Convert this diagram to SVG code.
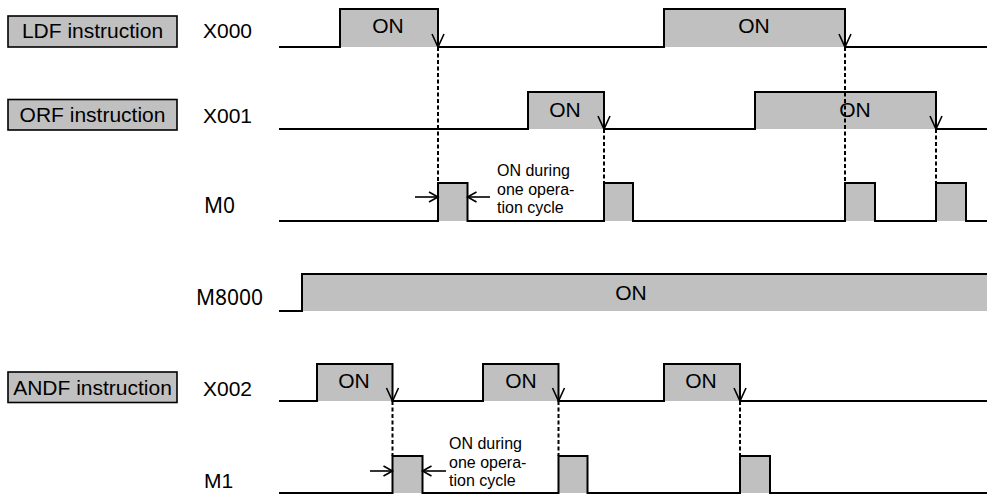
<svg xmlns="http://www.w3.org/2000/svg" width="987" height="494" viewBox="0 0 987 494">
<style>
.bg{fill:#fff}
.on{fill:#c0c0c0;stroke:none}
.wave{fill:none;stroke:#000;stroke-width:2}
.box{fill:#c0c0c0;stroke:#000;stroke-width:1.6}
.t{font-family:"Liberation Sans",Arial,sans-serif;font-size:21px;fill:#000}
.tn{font-family:"Noto Sans","Liberation Sans",sans-serif;font-size:21px;fill:#000}
.tc{text-anchor:middle}
.s{font-family:"Liberation Sans",Arial,sans-serif;font-size:16px;fill:#000}
.dash{fill:none;stroke:#000;stroke-width:2;stroke-dasharray:4,2.5}
.edge{fill:none;stroke:#000;stroke-width:1.6}
.dim{fill:none;stroke:#000;stroke-width:1.6;marker-end:url(#v)}
</style>
<defs>
<marker id="v" markerUnits="userSpaceOnUse" markerWidth="12" markerHeight="12" refX="9" refY="5" orient="auto" overflow="visible">
<path d="M0,0 L9,5 L0,10" fill="none" stroke="#000" stroke-width="1.6"/>
</marker>
</defs>
<rect class="bg" x="0" y="0" width="987" height="494"/>

<g id="ldf-label">
<rect class="box" x="8" y="16" width="169" height="31"/>
<text class="t tc" x="92.5" y="38">LDF instruction</text>
</g>
<g id="orf-label">
<rect class="box" x="8" y="99.5" width="169" height="30.5"/>
<text class="t tc" x="92.5" y="122">ORF instruction</text>
</g>
<g id="andf-label">
<rect class="box" x="8" y="372" width="169" height="30.5"/>
<text class="t tc" x="92.5" y="394.5">ANDF instruction</text>
</g>

<g id="x000">
<text class="t" x="203" y="38">X000</text>
<rect class="on" x="340" y="9" width="98" height="38"/>
<rect class="on" x="664" y="9" width="181" height="38"/>
<path class="wave" d="M279,47 H340 V9 H438 V47 H664 V9 H845 V47 H987"/>
<text class="t tc" x="388" y="33">ON</text>
<text class="t tc" x="754" y="33">ON</text>
</g>

<g id="x001">
<text class="t" x="203" y="123">X001</text>
<rect class="on" x="528" y="92" width="76" height="37"/>
<rect class="on" x="755" y="92" width="181" height="37"/>
<path class="wave" d="M279,129 H528 V92 H604 V129 H755 V92 H936 V129 H987"/>
<text class="t tc" x="565" y="117">ON</text>
<text class="t tc" x="855" y="117">ON</text>
</g>

<g id="m0">
<text class="tn" x="204" y="213">M0</text>
<rect class="on" x="438" y="183" width="29.5" height="38"/>
<rect class="on" x="604" y="183" width="29" height="38"/>
<rect class="on" x="845" y="183" width="30" height="38"/>
<rect class="on" x="936" y="183" width="30" height="38"/>
<path class="wave" d="M279,221 H438 V183 H467.5 V221 H604 V183 H633 V221 H845 V183 H875 V221 H936 V183 H966 V221 H987"/>
<text class="s" x="497" y="176">ON during</text>
<text class="s" x="497" y="194.5">one opera-</text>
<text class="s" x="497" y="213">tion cycle</text>
</g>

<g id="m8000">
<text class="tn" x="196" y="305">M8000</text>
<rect class="on" x="302" y="274" width="685" height="37"/>
<path class="wave" d="M279,311 H302 V274 H987"/>
<text class="t tc" x="631" y="300">ON</text>
</g>

<g id="x002">
<text class="t" x="203" y="396">X002</text>
<rect class="on" x="317" y="364" width="75.5" height="37"/>
<rect class="on" x="483" y="364" width="75.5" height="37"/>
<rect class="on" x="664" y="364" width="76" height="37"/>
<path class="wave" d="M279,401 H317 V364 H392.5 V401 H483 V364 H558.5 V401 H664 V364 H740 V401 H987"/>
<text class="t tc" x="354" y="388">ON</text>
<text class="t tc" x="521" y="388">ON</text>
<text class="t tc" x="701" y="388">ON</text>
</g>

<g id="m1">
<text class="t" x="204" y="488">M1</text>
<rect class="on" x="392.5" y="456" width="30" height="37"/>
<rect class="on" x="558.5" y="456" width="29" height="37"/>
<rect class="on" x="740" y="456" width="30" height="37"/>
<path class="wave" d="M279,493 H392.5 V456 H422.5 V493 H558.5 V456 H587.5 V493 H740 V456 H770 V493 H987"/>
<text class="s" x="449" y="449">ON during</text>
<text class="s" x="449" y="467.5">one opera-</text>
<text class="s" x="449" y="486">tion cycle</text>
</g>

<g id="connectors">
<path class="dash" d="M438,47 V183 M604,129 V183 M845,47 V183 M936,129 V183 M392.5,401 V456 M558.5,401 V456 M740,401 V456"/>
<path class="edge" d="M432,34 L438,47 L444,34 M598,116 L604,129 L610,116 M839,34 L845,47 L851,34 M930,116 L936,129 L942,116 M386.5,388 L392.5,401 L398.5,388 M552.5,388 L558.5,401 L564.5,388 M734,388 L740,401 L746,388"/>
<line class="dim" x1="415" y1="197" x2="438" y2="197"/>
<line class="dim" x1="490" y1="197" x2="467.5" y2="197"/>
<line class="dim" x1="370" y1="471" x2="392.5" y2="471"/>
<line class="dim" x1="446" y1="471" x2="422.5" y2="471"/>
</g>
</svg>
